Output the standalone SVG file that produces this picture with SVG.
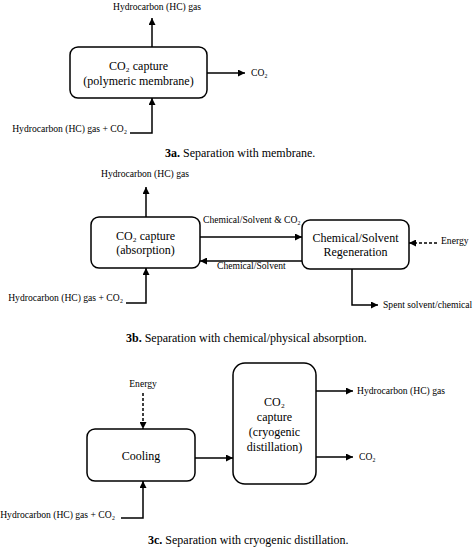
<svg xmlns="http://www.w3.org/2000/svg" width="475" height="550" viewBox="0 0 475 550">
<defs>
<marker id="ah" viewBox="0 0 10 10" refX="10" refY="5" markerWidth="7" markerHeight="7" markerUnits="userSpaceOnUse" orient="auto"><path d="M0,0 L10,5 L0,10 z" fill="#000"/></marker>
</defs>
<style>
.box{fill:#fff;stroke:#000;stroke-width:1.5}
.ln{fill:none;stroke:#000;stroke-width:1.5;marker-end:url(#ah)}
.dash{stroke-dasharray:3,2}
.t{font-family:"Liberation Serif",serif;font-size:12px;fill:#000}
.s{font-family:"Liberation Serif",serif;font-size:9.6px;fill:#000}
.m{text-anchor:middle}
.e{text-anchor:end}
.b{font-weight:bold}
</style>
<rect width="475" height="550" fill="#fff"/>
<g id="connectors">
<path class="ln" d="M152,47 V18"/>
<path class="ln" d="M207,73 H245"/>
<path class="ln" d="M130,133 H152 V98"/>
<path class="ln" d="M146,217 V187"/>
<path class="ln" d="M126,303 H146 V268"/>
<path class="ln" d="M200,237 H302"/>
<path class="ln" d="M302,261 H200"/>
<path class="ln dash" d="M437,243 H409"/>
<path class="ln" d="M352,269 V305 H378"/>
<path class="ln dash" d="M143,393 V429"/>
<path class="ln" d="M121,518 H143 V481"/>
<path class="ln" d="M195,458 H233"/>
<path class="ln" d="M316,391 H353"/>
<path class="ln" d="M316,457 H353"/>
</g>
<g id="membrane">
<rect class="box" x="70" y="47" width="137" height="51" rx="8"/>
<text class="t m" x="138.5" y="70">CO₂ capture</text>
<text class="t m" x="138.5" y="85">(polymeric membrane)</text>
</g>
<g id="labels-3a">
<text class="s m" x="157" y="10">Hydrocarbon (HC) gas</text>
<text class="s" x="251" y="76">CO₂</text>
<text class="s e" x="127" y="132">Hydrocarbon (HC) gas + CO₂</text>
<text class="t" x="165" y="157"><tspan class="b">3a.</tspan> Separation with membrane.</text>
</g>
<g id="absorption">
<rect class="box" x="91" y="217" width="109" height="51" rx="8"/>
<text class="t m" x="145.5" y="240">CO₂ capture</text>
<text class="t m" x="145.5" y="254">(absorption)</text>
</g>
<g id="regeneration">
<rect class="box" x="302" y="220" width="107" height="49" rx="8"/>
<text class="t m" x="355.5" y="242">Chemical/Solvent</text>
<text class="t m" x="355.5" y="256">Regeneration</text>
</g>
<g id="labels-3b">
<text class="s m" x="145" y="177">Hydrocarbon (HC) gas</text>
<text class="s e" x="123" y="301">Hydrocarbon (HC) gas + CO₂</text>
<text class="s" x="203" y="223">Chemical/Solvent &amp; CO₂</text>
<text class="s" x="217" y="269">Chemical/Solvent</text>
<text class="s" x="441" y="244">Energy</text>
<text class="s" x="383" y="308">Spent solvent/chemical</text>
<text class="t" x="126" y="342"><tspan class="b">3b.</tspan> Separation with chemical/physical absorption.</text>
</g>
<g id="cooling">
<rect class="box" x="87" y="429" width="108" height="52" rx="8"/>
<text class="t m" x="141" y="460">Cooling</text>
</g>
<g id="cryogenic">
<rect class="box" x="233" y="363" width="83" height="121" rx="12"/>
<text class="t m" x="274.5" y="406">CO₂</text>
<text class="t m" x="274.5" y="421">capture</text>
<text class="t m" x="274.5" y="436">(cryogenic</text>
<text class="t m" x="274.5" y="451">distillation)</text>
</g>
<g id="labels-3c">
<text class="s m" x="143" y="387">Energy</text>
<text class="s e" x="115" y="518">Hydrocarbon (HC) gas + CO₂</text>
<text class="s" x="357" y="394">Hydrocarbon (HC) gas</text>
<text class="s" x="359" y="460">CO₂</text>
<text class="t" x="148" y="544"><tspan class="b">3c.</tspan> Separation with cryogenic distillation.</text>
</g>
</svg>
